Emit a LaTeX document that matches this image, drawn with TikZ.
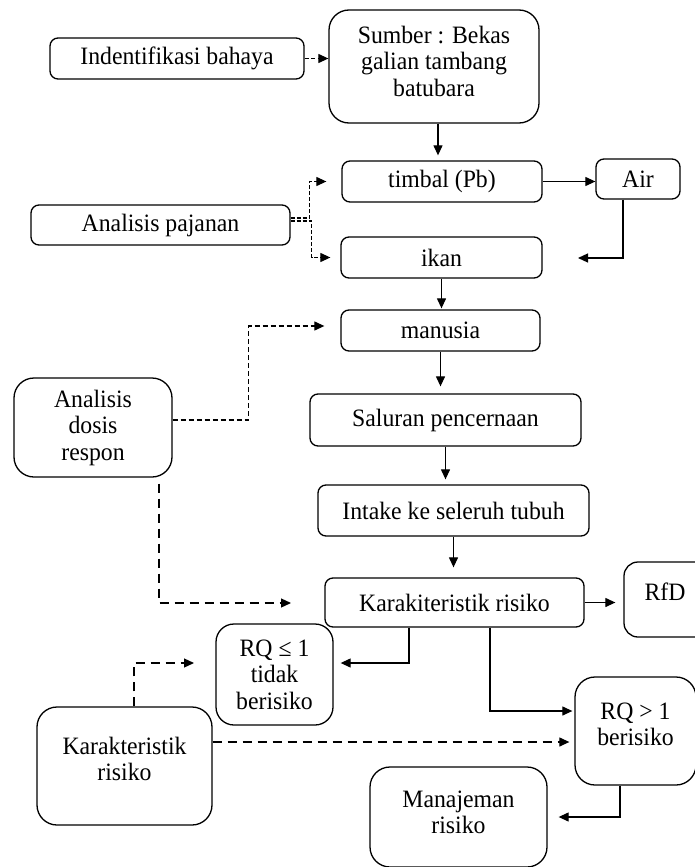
\documentclass[tikz,border=0pt]{standalone}
\usepackage{fontspec}
\setmainfont[FakeStretch=0.95]{Liberation Serif}
\usetikzlibrary{arrows.meta}
\begin{document}
\begin{tikzpicture}[x=1pt,y=-1pt,
  box/.style={draw, line width=1.3pt, rounded corners=8pt, align=center, inner sep=0pt},
  bigbox/.style={box, rounded corners=20pt},
  txt/.style={align=center, inner sep=0pt},
  arr/.style={line width=1.2pt, -{Triangle[length=10pt,width=9pt]}},
  darr/.style={arr, dash pattern=on 5pt off 3pt},
  ldarr/.style={arr, dash pattern=on 9pt off 6pt},
  font=\fontsize{25}{26.5}\selectfont]
\useasboundingbox (0,0) rectangle (694,867);

% boxes
\node[box, minimum width=254pt, minimum height=41pt] (ind) at (177,58.5) {Indentifikasi bahaya};
\node[bigbox, minimum width=210pt, minimum height=113pt] (sum) at (434,66.5) {};
\node[txt] (sumt) at (434,61) {Sumber : Bekas\\galian tambang\\batubara};
\node[box, minimum width=200pt, minimum height=41pt] (tim) at (442,181.5) {timbal (Pb)};
\node[box, minimum width=84pt, minimum height=40pt] (air) at (638,179) {Air};
\node[box, minimum width=259pt, minimum height=40pt] (paj) at (160.5,225) {Analisis pajanan};
\node[box, minimum width=201pt, minimum height=41pt] (ikan) at (441.5,257.5) {ikan};
\node[box, minimum width=199pt, minimum height=41pt] (man) at (440.5,330.5) {manusia};
\node[bigbox, minimum width=158pt, minimum height=99pt] (dos) at (93,427.5) {Analisis\\dosis\\respon};
\node[box, minimum width=271pt, minimum height=52pt] (sal) at (445.5,420) {Saluran pencernaan};
\node[box, minimum width=271pt, minimum height=51pt] (int) at (453.5,510.5) {Intake ke seleruh tubuh};
\node[box, minimum width=259pt, minimum height=49pt] (kar) at (454.5,602.5) {Karakiteristik risiko};
\node[box, rounded corners=14pt, minimum width=86pt, minimum height=75pt] (rfd) at (667,599.5) {};
\node[txt] (rfdt) at (665,592) {RfD};
\node[bigbox, rounded corners=18pt, minimum width=117pt, minimum height=101pt] (rq1) at (274.5,674.5) {RQ ≤ 1\\tidak\\berisiko};
\node[bigbox, minimum width=121pt, minimum height=108pt] (rq2) at (635.5,731) {};
\node[txt] (rq2t) at (635.5,724.5) {RQ > 1\\berisiko};
\node[bigbox, minimum width=175pt, minimum height=118pt] (kr2) at (124.5,766) {};
\node[txt] (kr2t) at (124.5,759) {Karakteristik\\risiko};
\node[bigbox, minimum width=177pt, minimum height=100pt] (mgt) at (458.5,817) {};
\node[txt] (mgtt) at (458.5,812.5) {Manajeman\\risiko};

% free ends
\coordinate (airend) at (578,258);
\coordinate (kdash) at (291,603);
\coordinate (rqdash) at (194,663);

% solid connectors
\draw[arr, shorten >=5pt] ([xshift=4pt]sum.south) -- ([xshift=4pt]sum.south |- tim.north);
\draw[arr] (tim.east) -- (tim.east -| air.west);
\draw[arr] ([xshift=-15pt]air.south) |- (airend);
\draw[arr, shorten >=1pt] (ikan.south) -- (ikan.south |- man.north);
\draw[arr, shorten >=7pt] (man.south) -- (man.south |- sal.north);
\draw[arr, shorten >=5pt] (sal.south) -- (sal.south |- int.north);
\draw[arr, shorten >=10pt] (int.south) -- (int.south |- kar.north);
\draw[arr, shorten >=8pt] (kar.east) -- (kar.east -| rfd.west);
\draw[arr] ([xshift=-45.5pt]kar.south) |- ([xshift=7pt,yshift=11.5pt]rq1.east);
\draw[arr, shorten >=2pt] ([xshift=35.5pt]kar.south) |- ([yshift=20pt]rq2.west);
\draw[arr, shorten >=11pt] ([xshift=-15.5pt]rq2.south) |- (mgt.east);

% dashed connectors
\draw[darr, dash pattern=on 4pt off 2.5pt] (ind.east) -- (ind.east -| sum.west);
\draw[darr, dash pattern=on 4pt off 2pt] ([yshift=7pt]paj.east) -- ([yshift=7pt,xshift=19pt]paj.east) |- ([xshift=-15pt]tim.west);
\draw[darr, dash pattern=on 4pt off 2pt] ([yshift=4pt]paj.east) -- ([yshift=4pt,xshift=21pt]paj.east) |- ([xshift=-10pt]ikan.west);
\draw[darr] ([yshift=7.5pt]dos.east) -- ([yshift=7.5pt,xshift=76pt]dos.east) |- ([xshift=-16pt,yshift=4.5pt]man.west);
\draw[ldarr] ([xshift=66pt,yshift=-6pt]dos.south) |- (kdash);
\draw[ldarr] ([xshift=9.5pt]kr2.north) |- (rqdash);
\draw[ldarr, shorten >=5pt] ([yshift=24pt]kr2.east) -- ([yshift=24pt]kr2.east -| rq2.west);
\end{tikzpicture}
\end{document}
